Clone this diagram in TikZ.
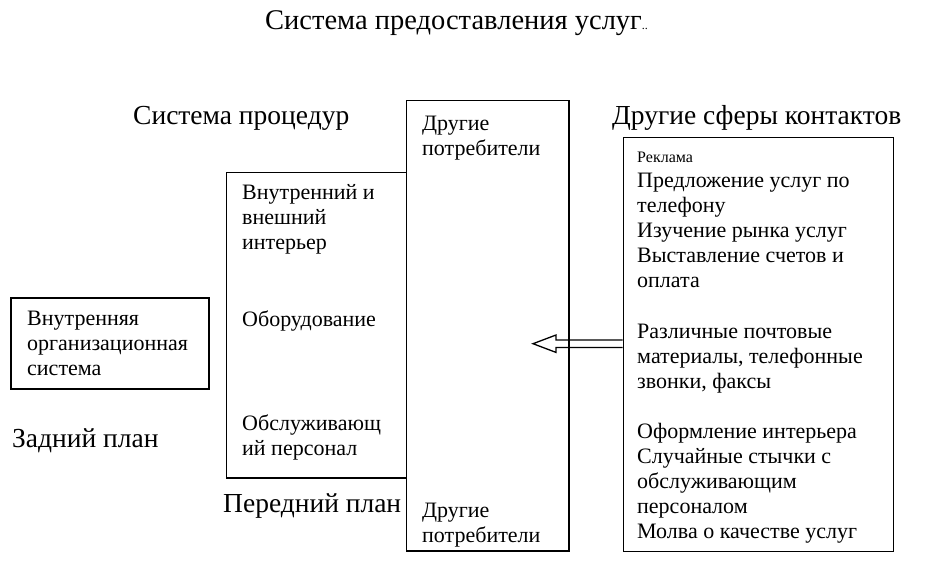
\documentclass[tikz,border=0pt]{standalone}
\usepackage{fontspec}
\setmainfont{Liberation Serif}
\tikzset{
  box/.style={draw=black, line width=1.4pt},
  txt/.style={anchor=base west, inner sep=0pt, align=left, font=\fontsize{22}{25}\selectfont},
  head/.style={anchor=base west, inner sep=0pt, font=\fontsize{27.5}{30}\selectfont},
  hollow/.style={draw=black, line width=1.3pt, line join=miter}
}
\begin{document}
\begin{tikzpicture}[x=1pt,y=-1pt]
\useasboundingbox (0,0) rectangle (928,562);
% boxes
\draw[box] (226.7,172.7) rectangle (406.7,478);
\draw[box] (406.7,100.7) rectangle (569,551);
\draw[box] (11,298) rectangle (209,389);
\node[box, anchor=north west, minimum width=270pt, minimum height=414pt, inner sep=0pt] (rbox) at (622.7,136.7) {};
% headings
\node[head, font=\fontsize{28.5}{30}\selectfont] (title) at (265,29) {Система предоставления услуг{\fontsize{12}{12}\selectfont ..}};
\node[head] (proc) at (133,124) {Система процедур};
\node[head] (other) at (612,124) {Другие сферы контактов};
\node[head] (front) at (223,512) {Передний план};
\node[head] (back) at (12,447) {Задний план};
% left box (base = last line)
\node[txt] (org) at (27,375) {Внутренняя\\организационная\\система};
% inner box
\node[txt] (inter) at (242,249) {Внутренний и\\внешний\\интерьер};
\node[txt] (equip) at (242,326) {Оборудование};
\node[txt] (staff) at (242,455) {Обслуживающ\\ий персонал};
% tall box
\node[txt] (cons1) at (422,155) {Другие\\потребители};
\node[txt] (cons2) at (422,542) {Другие\\потребители};
% right box
\node[txt, font=\fontsize{16}{25}\selectfont] (adv) at (637,162) {Реклама};
\node[txt] (list1) at (637,287) {Предложение услуг по\\телефону\\Изучение рынка услуг\\Выставление счетов и\\оплата};
\node[txt] (list2) at (637,388) {Различные почтовые\\материалы, телефонные\\звонки, факсы};
\node[txt] (list3) at (637,538) {Оформление интерьера\\Случайные стычки с\\обслуживающим\\персоналом\\Молва о качестве услуг};
% arrow
\coordinate (tip) at (533,343.7);
\coordinate (a1) at (622.7,340);
\coordinate (a2) at (556,340);
\coordinate (a3) at (556,335);
\coordinate (a4) at (556,352.4);
\coordinate (a5) at (556,347.4);
\coordinate (a6) at (622.7,347.4);
\draw[hollow] (a1) -- (a2) -- (a3) -- (tip) -- (a4) -- (a5) -- (a6);
\end{tikzpicture}
\end{document}
